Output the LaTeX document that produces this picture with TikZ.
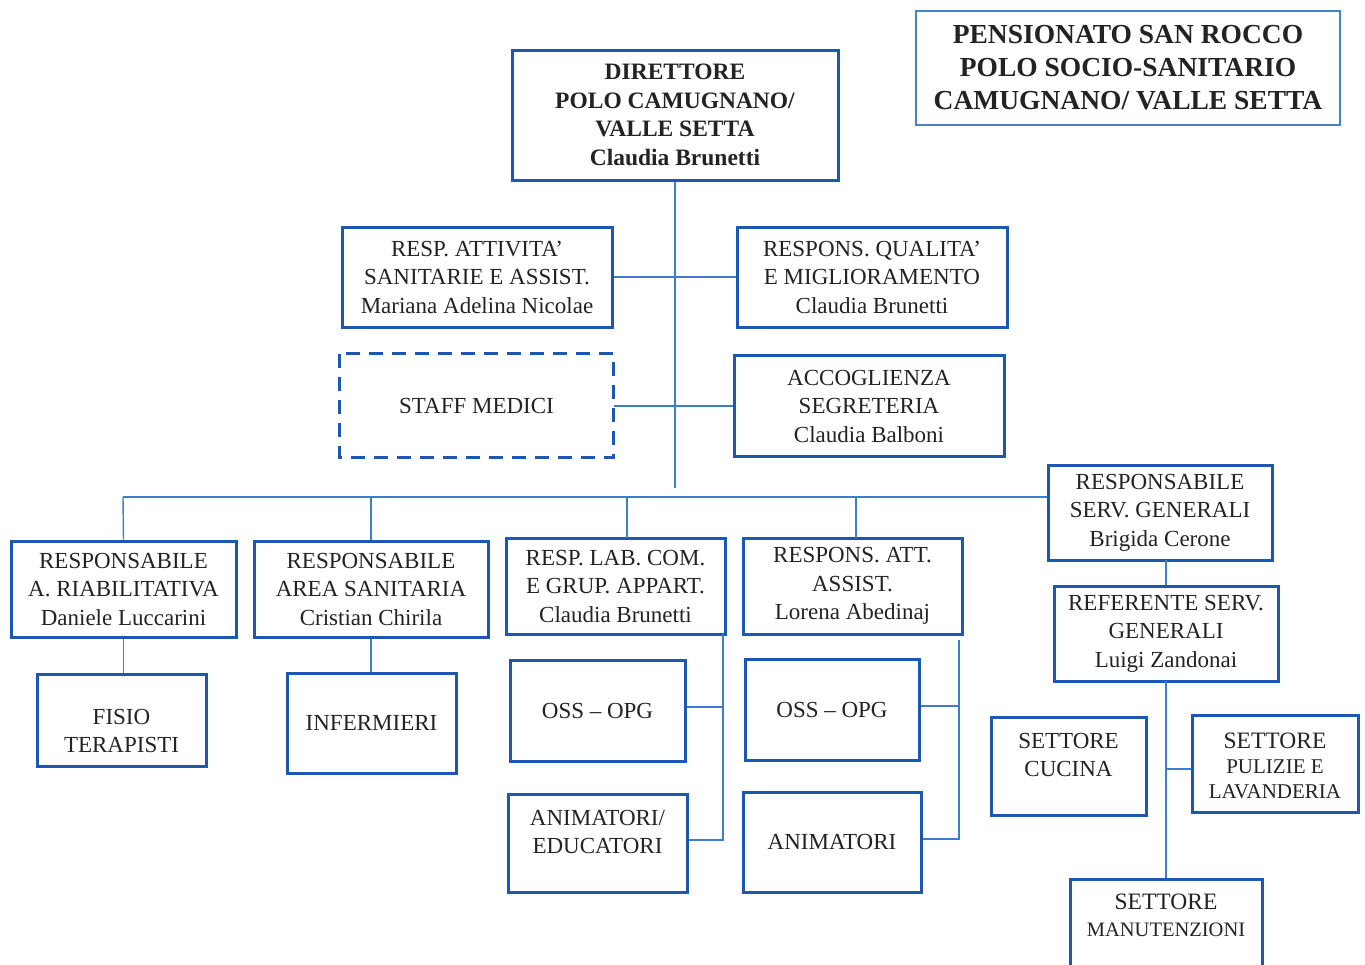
\documentclass[tikz,border=0pt]{standalone}
\usepackage{fontspec}
\setmainfont{Liberation Serif}
\definecolor{boxblue}{RGB}{28,88,178}
\definecolor{lineblue}{RGB}{60,125,205}
\definecolor{titleblue}{RGB}{70,130,200}
\definecolor{inkgray}{RGB}{35,35,35}
\begin{document}
\begin{tikzpicture}[x=1pt,y=-1pt,
  box/.style={draw=boxblue,line width=3pt,rectangle,inner sep=0pt,align=center,
    text=inkgray,font=\fontsize{23}{28.5}\selectfont},
  txt/.style={inner sep=0pt,align=center,text=inkgray,font=\fontsize{23}{28.5}\selectfont},
  link/.style={draw=lineblue,line width=1.4pt},
  bx/.style n args={4}{minimum width=#3-#1,minimum height=#4-#2}
]
\useasboundingbox (0,0) rectangle (1365,964);
\clip (0,0) rectangle (1365,964);
\fill[white] (0,0) rectangle (1365,964);

% heading box
\node[draw=titleblue,line width=1.8pt,minimum width=424,minimum height=114,inner sep=0pt,
  align=center,text=inkgray,font=\bfseries\fontsize{27.5}{33}\selectfont]
  (head) at (1128,68) {PENSIONATO SAN ROCCO\\POLO SOCIO-SANITARIO\\CAMUGNANO/ VALLE SETTA};

% director
\node[box,bx={512}{50}{838}{180},font=\bfseries\fontsize{23.5}{28.7}\selectfont]
  (dir) at (675,115) {DIRETTORE\\POLO CAMUGNANO/\\VALLE SETTA\\Claudia Brunetti};

% staff level
\node[box,bx={342}{227}{612}{327}] (ras) at (477,277)
  {RESP. ATTIVITA’\\SANITARIE E ASSIST.\\Mariana Adelina Nicolae};
\node[box,bx={737}{227}{1007}{327}] (qual) at (872,277)
  {RESPONS. QUALITA’\\E MIGLIORAMENTO\\Claudia Brunetti};
\node[box,draw=none,bx={341}{355}{612}{456}] (staff) at (476.5,405.5) {STAFF MEDICI};
\draw[boxblue,line width=3pt,dash pattern=on 14pt off 9pt]
  (staff.north west) rectangle (staff.south east);
\node[box,bx={734}{355}{1004}{456}] (acc) at (869,406)
  {ACCOGLIENZA\\SEGRETERIA\\Claudia Balboni};

% trunk and bus
\coordinate (trunkend) at (675,488);
\coordinate (busL) at (123,497);
\draw[link] (dir.south) -- (trunkend);
\draw[link] (ras.east) -- (qual.west);
\draw[link] (staff.east |- acc.west) -- (acc.west);

% second level
\node[box,bx={1048}{465}{1272}{560}] (sg) at (1160,512.5)
  {RESPONSABILE\\SERV. GENERALI\\Brigida Cerone};
\draw[link] (busL) -- (busL -| sg.west);

\node[box,bx={11}{541}{236}{637}] (riab) at (123.5,589)
  {RESPONSABILE\\A. RIABILITATIVA\\Daniele Luccarini};
\node[box,bx={254}{541}{488}{637}] (san) at (371,589)
  {RESPONSABILE\\AREA SANITARIA\\Cristian Chirila};
\node[box,bx={506}{538}{725}{634}] (lab) at (615.5,586)
  {RESP. LAB. COM.\\E GRUP. APPART.\\Claudia Brunetti};
\node[box,bx={743}{538}{962}{634}] (att) at (852.5,586)
  {RESPONS. ATT.\\ASSIST.\\Lorena Abedinaj};

\draw[link] (busL) -- (riab.north);
\draw[link] (san.north |- busL) -- (san.north);
\draw[link] (627,497) -- (627,538);
\draw[link] (856,497) -- (856,538);

% rehabilitation and health area
\node[box,bx={37}{674}{206}{766}] (fisio) at (121.5,720) {};
\node[txt] (fisiot) at (121.5,731) {FISIO\\TERAPISTI};
\draw[link] (riab.south) -- (riab.south |- fisio.north);
\node[box,bx={287}{673}{456}{773}] (inf) at (371.5,723) {INFERMIERI};
\draw[link] (san.south) -- (san.south |- inf.north);

% workshop branch
\node[box,bx={510}{659}{685}{760}] (oss1) at (597.5,711) {OSS -- OPG};
\node[box,bx={508}{794}{687}{892}] (edu) at (597.5,843) {};
\node[txt] (edut) at (597.5,832) {ANIMATORI/\\EDUCATORI};
\coordinate (labrail) at (723,634);
\draw[link] (labrail) -- (723,840) -- (edu.east |- 0,840);
\draw[link] (oss1.east |- 0,707) -- (723,707);

% assistance branch
\node[box,bx={745}{659}{919}{760}] (oss2) at (832,709.5) {OSS -- OPG};
\node[box,bx={743}{792}{921}{892}] (anim) at (832,842) {ANIMATORI};
\coordinate (attrail) at (959,640);
\draw[link] (attrail) -- (959,839) -- (anim.east |- 0,839);
\draw[link] (oss2.east |- 0,706) -- (959,706);

% general services
\node[box,bx={1054}{586}{1278}{681}] (ref) at (1166,633.5)
  {REFERENTE SERV.\\GENERALI\\Luigi Zandonai};
\draw[link] (ref.north -| 1166,0) -- (1166,560);
\node[box,bx={991}{717}{1146}{815}] (cuc) at (1068.5,766) {};
\node[txt] (cuct) at (1068.5,755) {SETTORE\\CUCINA};
\node[box,bx={1192}{715}{1358}{812}] (pul) at (1275,763.5) {};
\node[txt,font=\fontsize{21}{25}\selectfont] (pult) at (1275,766)
  {{\fontsize{23.5}{25}\selectfont SETTORE}\\PULIZIE E\\LAVANDERIA};
\node[box,bx={1070}{879}{1262}{1000}] (man) at (1166,939.5) {};
\node[txt,font=\fontsize{20.5}{27}\selectfont] (mant) at (1166,915)
  {{\fontsize{23.5}{27}\selectfont SETTORE}\\MANUTENZIONI};
\draw[link] (1166,681) -- (man.north);
\draw[link] (1166,769) -- (pul.west |- 0,769);
\end{tikzpicture}
\end{document}
